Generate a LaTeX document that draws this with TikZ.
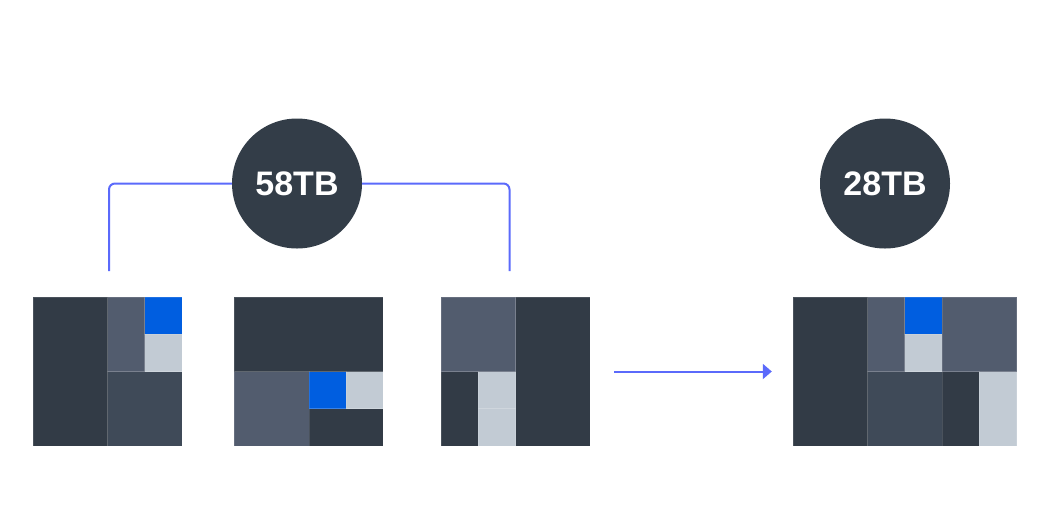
\documentclass[tikz,border=0pt]{standalone}
\usepackage{fontspec}
\setmainfont{Liberation Sans}
\usetikzlibrary{arrows.meta}
\definecolor{cdark}{HTML}{323B46}
\definecolor{cslate}{HTML}{525C6E}
\definecolor{cmid}{HTML}{3F4A58}
\definecolor{cblue}{HTML}{005EE0}
\definecolor{clight}{HTML}{C2CBD4}
\definecolor{ccircle}{HTML}{333D48}
\definecolor{cline}{HTML}{5B6AFB}
\begin{document}
\begin{tikzpicture}[x=1pt,y=-1pt,
  cellbox/.style={draw=white,draw opacity=0.12,line width=0.6pt},
  disk/.style={circle,fill=ccircle,minimum size=130pt,inner sep=0pt,text=white,font=\bfseries\fontsize{34}{34}\selectfont},
  link/.style={draw=cline,line width=2pt,rounded corners=6pt},
  flow/.style={draw=cline,line width=2pt,-{Triangle[length=9pt,width=15pt]}},
  boxarea/.style={rectangle,minimum width=149pt,minimum height=149pt,inner sep=0pt}]
\useasboundingbox (0,0) rectangle (1056,504);
\def\s{37.25}
% box 1
\begin{scope}[shift={(33,297)}]
  \path[cellbox,fill=cdark] (0,0) rectangle (2*\s,4*\s);
  \path[cellbox,fill=cslate] (2*\s,0) rectangle (3*\s,2*\s);
  \path[cellbox,fill=cblue] (3*\s,0) rectangle (4*\s,\s);
  \path[cellbox,fill=clight] (3*\s,\s) rectangle (4*\s,2*\s);
  \path[cellbox,fill=cmid] (2*\s,2*\s) rectangle (4*\s,4*\s);
\end{scope}
% box 2
\begin{scope}[shift={(234.3,297)}]
  \path[cellbox,fill=cdark] (0,0) rectangle (4*\s,2*\s);
  \path[cellbox,fill=cslate] (0,2*\s) rectangle (2*\s,4*\s);
  \path[cellbox,fill=cblue] (2*\s,2*\s) rectangle (3*\s,3*\s);
  \path[cellbox,fill=clight] (3*\s,2*\s) rectangle (4*\s,3*\s);
  \path[cellbox,fill=cdark] (2*\s,3*\s) rectangle (4*\s,4*\s);
\end{scope}
% box 3
\begin{scope}[shift={(441,297)}]
  \path[cellbox,fill=cslate] (0,0) rectangle (2*\s,2*\s);
  \path[cellbox,fill=cdark] (2*\s,0) rectangle (4*\s,4*\s);
  \path[cellbox,fill=cdark] (0,2*\s) rectangle (\s,4*\s);
  \path[cellbox,fill=clight] (\s,2*\s) rectangle (2*\s,3*\s);
  \path[cellbox,fill=clight] (\s,3*\s) rectangle (2*\s,4*\s);
\end{scope}
% box 4
\begin{scope}[shift={(793,297)}]
  \path[cellbox,fill=cdark] (0,0) rectangle (2*\s,4*\s);
  \path[cellbox,fill=cslate] (2*\s,0) rectangle (3*\s,2*\s);
  \path[cellbox,fill=cblue] (3*\s,0) rectangle (4*\s,\s);
  \path[cellbox,fill=clight] (3*\s,\s) rectangle (4*\s,2*\s);
  \path[cellbox,fill=cslate] (4*\s,0) rectangle (6*\s,2*\s);
  \path[cellbox,fill=cmid] (2*\s,2*\s) rectangle (4*\s,4*\s);
  \path[cellbox,fill=cdark] (4*\s,2*\s) rectangle (5*\s,4*\s);
  \path[cellbox,fill=clight] (5*\s,2*\s) rectangle (6*\s,4*\s);
\end{scope}
\node[boxarea] (b1) at (107.5,371.5) {};
\node[boxarea] (b3) at (515.5,371.5) {};
\node[boxarea,minimum width=223.5pt] (b4) at (904.75,371.5) {};
% circles
\node[disk] (c58) at (297,183.5) {58TB};
\node[disk] (c28) at (885,183.5) {28TB};
\coordinate (l1) at (109,271);
\coordinate (r1) at (509.5,271);
\draw[link] (c58.west) -| (l1);
\draw[link] (c58.east) -| (r1);
\draw[flow,shorten <=24pt,shorten >=21pt] (b3.east) -- (b4.west);
\end{tikzpicture}
\end{document}
